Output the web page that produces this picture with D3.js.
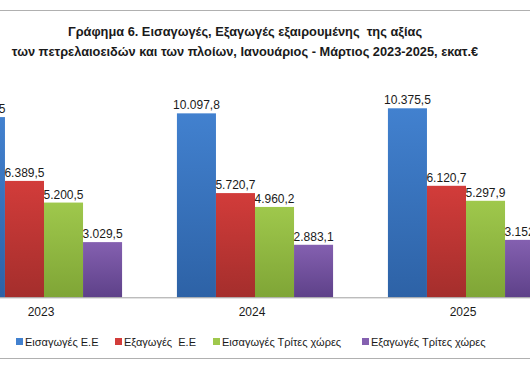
<!DOCTYPE html>
<html>
<head>
<meta charset="utf-8">
<script src="https://cdn.jsdelivr.net/npm/d3@7"></script>
<style>
  body { margin: 0; background: #fff; }
  svg { display: block; font-family: "Liberation Sans", Arial, sans-serif; }
</style>
</head>
<body>
<div id="chart"></div>
<script>
var years = ["2023", "2024", "2025"];
var seriesNames = ["Εισαγωγές Ε.Ε", "Εξαγωγές  Ε.Ε", "Εισαγωγές Τρίτες χώρες", "Εξαγωγές Τρίτες χώρες"];
var importsEU = [9893.5, 10097.8, 10375.5];
var exportsEU = [6389.5, 5720.7, 6120.7];
var importsThird = [5200.5, 4960.2, 5297.9];
var exportsThird = [3029.5, 2883.1, 3152.6];
var titleLines = ["Γράφημα 6. Εισαγωγές, Εξαγωγές εξαιρουμένης  της αξίας",
                  "των πετρελαιοειδών και των πλοίων, Ιανουάριος - Μάρτιος 2023-2025, εκατ.€"];

var colorTop = ["#4281cf", "#d23c3a", "#9fc84c", "#8460b0"];
var colorBottom = ["#2d62a6", "#a42e2c", "#7fa536", "#5e4189"];

var width = 530, height = 390;
var seriesValues = [importsEU, exportsEU, importsThird, exportsThird];

var svg = d3.select("#chart").append("svg")
    .attr("width", width)
    .attr("height", height);

// gradients for the bars
var defs = svg.append("defs");
seriesNames.forEach(function(s, i) {
    var g = defs.append("linearGradient")
        .attr("id", "grad" + i)
        .attr("x1", 0).attr("y1", 0).attr("x2", 0).attr("y2", 1);
    g.append("stop").attr("offset", "0%").attr("stop-color", colorTop[i]);
    g.append("stop").attr("offset", "100%").attr("stop-color", colorBottom[i]);
});

// frame lines (chart border, cropped)
svg.append("line").attr("x1", 0).attr("x2", width).attr("y1", 10.5).attr("y2", 10.5)
    .attr("stroke", "#b0b0b0").attr("stroke-width", 1);
svg.append("line").attr("x1", 0).attr("x2", width).attr("y1", 358.5).attr("y2", 358.5)
    .attr("stroke", "#b0b0b0").attr("stroke-width", 1);

// title
svg.selectAll(".title")
    .data(titleLines)
    .enter().append("text")
    .attr("class", "title")
    .attr("x", 245)
    .attr("y", function(d, i) { return 36 + i * 20; })
    .attr("text-anchor", "middle")
    .style("font-size", "12.8px")
    .style("font-weight", "bold")
    .style("white-space", "pre")
    .style("fill", "#1a1a1a")
    .text(function(d) { return d; });

var x0 = d3.scaleBand()
    .domain(years)
    .range([-61.5, 571.5])
    .paddingInner(0.26)
    .paddingOuter(0.13);

var x1 = d3.scaleBand()
    .domain(d3.range(seriesNames.length))
    .range([0, x0.bandwidth()]);

var y = d3.scaleLinear()
    .domain([0, 12000])
    .range([297.3, 78.7]);

var fmt = function(v) {
    var s = v.toFixed(1).split(".");
    return s[0].replace(/\B(?=(\d{3})+(?!\d))/g, ".") + "," + s[1];
};

var groups = svg.selectAll(".year")
    .data(years)
    .enter().append("g")
    .attr("class", "year")
    .attr("transform", function(d) { return "translate(" + x0(d) + ",0)"; });

groups.selectAll("rect")
    .data(function(d, yi) { return seriesValues.map(function(arr, si) { return {s: si, v: arr[yi]}; }); })
    .enter().append("rect")
    .attr("x", function(d) { return x1(d.s); })
    .attr("width", x1.bandwidth())
    .attr("y", function(d) { return y(d.v); })
    .attr("height", function(d) { return y(0) - y(d.v); })
    .attr("fill", function(d) { return "url(#grad" + d.s + ")"; });

groups.selectAll(".lbl")
    .data(function(d, yi) { return seriesValues.map(function(arr, si) { return {s: si, v: arr[yi]}; }); })
    .enter().append("text")
    .attr("class", "lbl")
    .attr("x", function(d) { return x1(d.s) + x1.bandwidth() / 2; })
    .attr("y", function(d) { return y(d.v) - 4; })
    .attr("text-anchor", "middle")
    .style("font-size", "12px")
    .style("fill", "#1a1a1a")
    .text(function(d) { return fmt(d.v); });

// x axis
var xAxis = svg.append("g")
    .attr("transform", "translate(0," + y(0) + ")")
    .call(d3.axisBottom(x0).tickSize(0).tickPadding(10));
xAxis.select(".domain").attr("stroke", "#a0a0a0").attr("d", "M0,0.5H" + width);
xAxis.selectAll("text")
    .attr("dx", -3)
    .style("font-size", "12px")
    .style("font-family", "Liberation Sans, Arial, sans-serif")
    .style("fill", "#1a1a1a");

// legend
var legendX = [16, 115, 213, 362];
var legend = svg.selectAll(".legend")
    .data(seriesNames)
    .enter().append("g")
    .attr("class", "legend")
    .attr("transform", function(d, i) { return "translate(" + legendX[i] + ",338)"; });
legend.append("rect")
    .attr("width", 7).attr("height", 7)
    .attr("fill", function(d, i) { return colorTop[i]; });
legend.append("text")
    .attr("x", 9)
    .attr("y", 7.5)
    .style("font-size", "11px")
    .style("fill", "#1a1a1a")
    .style("white-space", "pre")
    .text(function(d) { return d; });
</script>
</body>
</html>
